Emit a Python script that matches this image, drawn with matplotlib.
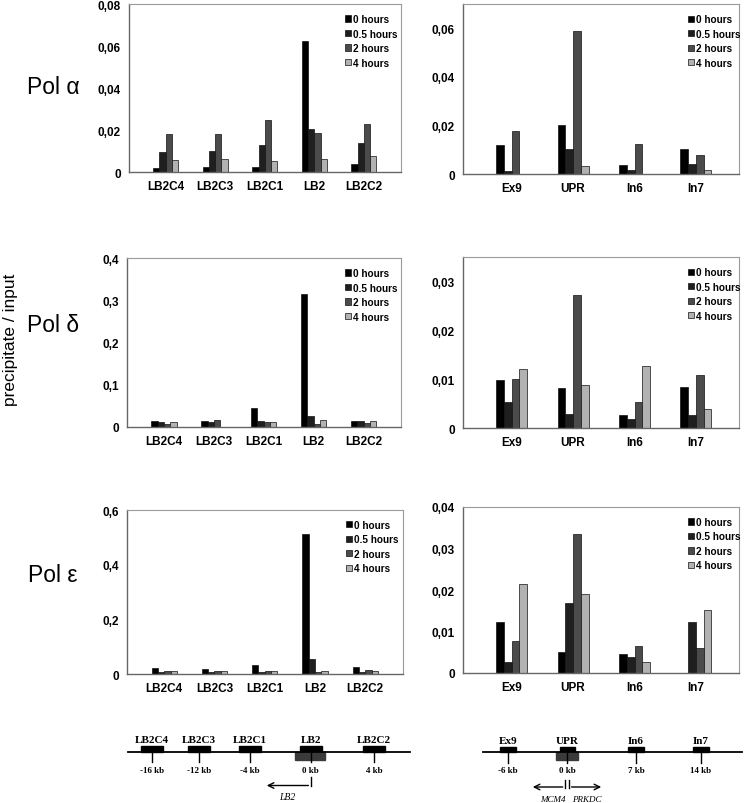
import numpy as np
import matplotlib.pyplot as plt
from matplotlib.ticker import MultipleLocator, FuncFormatter

plt.rcParams['font.family'] = ['Liberation Sans', 'DejaVu Sans']

hours = ['0 hours', '0.5 hours', '2 hours', '4 hours']
colors = ['#000000', '#1f1f1f', '#4b4b4b', '#b2b2b2']

lb2_sites = ['LB2C4', 'LB2C3', 'LB2C1', 'LB2', 'LB2C2']
mcm4_sites = ['Ex9', 'UPR', 'In6', 'In7']

# rows = time points (0, 0.5, 2, 4 hours), columns = sites
pol_a_lb2 = [[0.0017, 0.0025, 0.0022, 0.0624, 0.0037],
             [0.0094, 0.0100, 0.0129, 0.0203, 0.0137],
             [0.0179, 0.0183, 0.0246, 0.0184, 0.0229],
             [0.0057, 0.0060, 0.0051, 0.0060, 0.0075]]
pol_a_mcm4 = [[0.0121, 0.0201, 0.0037, 0.0105],
              [0.0014, 0.0101, 0.0015, 0.0043],
              [0.0178, 0.0590, 0.0124, 0.0080],
              [0.0, 0.0032, 0.0, 0.0015]]

pol_d_lb2 = [[0.0142, 0.0150, 0.0449, 0.315, 0.0134],
             [0.0110, 0.0110, 0.0134, 0.025, 0.0134],
             [0.0070, 0.0165, 0.0110, 0.008, 0.0102],
             [0.0118, 0.0, 0.0126, 0.0173, 0.0142]]
pol_d_mcm4 = [[0.0098, 0.0081, 0.0027, 0.0084],
              [0.0053, 0.0029, 0.0018, 0.0026],
              [0.0100, 0.0273, 0.0054, 0.0109],
              [0.0121, 0.0087, 0.0127, 0.0039]]

pol_e_lb2 = [[0.022, 0.0195, 0.034, 0.511, 0.024],
             [0.006, 0.006, 0.006, 0.055, 0.006],
             [0.011, 0.011, 0.0098, 0.0085, 0.0134],
             [0.0098, 0.011, 0.0098, 0.0098, 0.0098]]
pol_e_mcm4 = [[0.0124, 0.0050, 0.0045, 0.0],
              [0.0026, 0.0168, 0.0038, 0.0122],
              [0.0078, 0.0334, 0.0065, 0.0060],
              [0.0215, 0.0190, 0.0026, 0.0152]]

# gene maps
lb2_map_labels = ['-16 kb', '-12 kb', '-4 kb', '0 kb', '4 kb']
mcm4_map_labels = ['-6 kb', '0 kb', '7 kb', '14 kb']

W, H = 745, 804
fig = plt.figure(figsize=(W / 100, H / 100), dpi=100)


def px_axes(x0, y0, x1, y1):
    return fig.add_axes([x0 / W, 1 - y1 / H, (x1 - x0) / W, (y1 - y0) / H])


def fmt(v, pos):
    v = round(v, 4)
    if v == 0:
        return '0'
    return ('%g' % v).replace('.', ',')


def bar_panel(ax, sites, values, ymax, step, xlim, legend_xy):
    x = np.arange(len(sites))
    w = 0.126
    for i, (name, vals) in enumerate(zip(hours, values)):
        ax.bar(x + (i - 1.5) * w, vals, w, color=colors[i], edgecolor='#111111',
               linewidth=0.5, label=name)
    ax.set_xlim(*xlim)
    ax.set_ylim(0, ymax)
    ax.yaxis.set_major_locator(MultipleLocator(step))
    ax.yaxis.set_major_formatter(FuncFormatter(fmt))
    ax.set_xticks(x)
    ax.set_xticklabels(sites, fontweight='bold', fontsize=8.5)
    for t in ax.get_yticklabels():
        t.set_fontweight('bold')
    ax.tick_params(axis='both', length=0, labelsize=8.5, pad=6)
    for s in ['left', 'bottom']:
        ax.spines[s].set_color('#666666')
        ax.spines[s].set_linewidth(1.0)
    for s in ['top', 'right']:
        ax.spines[s].set_color('#9a9a9a')
        ax.spines[s].set_linewidth(0.8)
    leg = ax.legend(loc='upper left', bbox_to_anchor=legend_xy, frameon=False,
                    handlelength=0.6, handleheight=0.6,
                    handletextpad=0.2, labelspacing=0.45, borderpad=0,
                    borderaxespad=0, prop={'weight': 'bold', 'size': 7.2})
    return leg


left_xlim = (-0.74, 4.75)
right_xlim = (-0.79, 3.70)

ax1 = px_axes(129, 5, 401, 173)
bar_panel(ax1, lb2_sites, pol_a_lb2, 0.08, 0.02, left_xlim, (0.795, 0.94))
ax2 = px_axes(463, 5, 739, 175)
bar_panel(ax2, mcm4_sites, pol_a_mcm4, 0.07, 0.02, right_xlim, (0.815, 0.94))

ax3 = px_axes(127, 259, 401, 428)
bar_panel(ax3, lb2_sites, pol_d_lb2, 0.4, 0.1, left_xlim, (0.795, 0.94))
ax4 = px_axes(463, 258, 739, 429)
bar_panel(ax4, mcm4_sites, pol_d_mcm4, 0.035, 0.01, right_xlim, (0.815, 0.94))

ax5 = px_axes(127, 511, 403, 675)
bar_panel(ax5, lb2_sites, pol_e_lb2, 0.6, 0.2, left_xlim, (0.795, 0.94))
ax6 = px_axes(463, 508, 739, 674)
bar_panel(ax6, mcm4_sites, pol_e_mcm4, 0.04, 0.01, right_xlim, (0.815, 0.94))

# overlay in pixel coordinates for row labels and gene maps
ov = fig.add_axes([0, 0, 1, 1], zorder=-1)
ov.set_xlim(0, W)
ov.set_ylim(H, 0)
ov.axis('off')

ov.text(53, 88, 'Pol \u03b1', fontsize=16.5, ha='center', va='center')
ov.text(53, 326, 'Pol \u03b4', fontsize=16.5, ha='center', va='center')
ov.text(53, 576, 'Pol \u03b5', fontsize=16.5, ha='center', va='center')
ov.text(11, 340, 'precipitate / input', fontsize=12.5, rotation=90,
        ha='center', va='center')

serif = ['Liberation Serif', 'DejaVu Serif']

# LB2 locus
line_y = 752.7
ov.plot([128, 410], [line_y, line_y], color='black', lw=1.3)
lb2_x = [151.7, 199, 250.3, 310.7, 374.3]
for xc, name, lab in zip(lb2_x, lb2_sites, lb2_map_labels):
    ov.add_patch(plt.Rectangle((xc - 11, line_y - 5.5), 22, 5.5, color='black'))
    ov.plot([xc, xc], [line_y, 763], color='black', lw=1)
    ov.text(xc, 741, name, family=serif, fontweight='bold', fontsize=8,
            ha='center', va='center')
    ov.text(xc, 771, lab, family=serif, fontweight='bold', fontsize=6.5,
            ha='center', va='center')
ov.add_patch(plt.Rectangle((295, line_y), 30.3, 8, color='#3a3a3a'))
ov.plot([310.7, 310.7], [778, 786.5], color='black', lw=1)
ov.annotate('', xy=(264, 786.5), xytext=(311.2, 786.5),
            arrowprops=dict(arrowstyle='->', lw=1, color='black'))
ov.text(287, 798, 'LB2', family=serif, fontstyle='italic', fontsize=7,
        ha='center', va='center')

# MCM4 / PRKDC locus
ov.plot([483, 742], [line_y, line_y], color='black', lw=1.3)
mcm4_x = [508, 567.3, 636, 701]
for xc, name, lab in zip(mcm4_x, mcm4_sites, mcm4_map_labels):
    ov.add_patch(plt.Rectangle((xc - 7.7, line_y - 4.5), 15.4, 4.5, color='black'))
    ov.plot([xc, xc], [line_y, 764], color='black', lw=1)
    ov.text(xc, 741.5, name, family=serif, fontweight='bold', fontsize=8,
            ha='center', va='center')
    ov.text(xc, 771, lab, family=serif, fontweight='bold', fontsize=6.5,
            ha='center', va='center')
ov.add_patch(plt.Rectangle((556, line_y), 22.3, 8, color='#3a3a3a'))
ov.plot([565, 565], [781, 788.5], color='black', lw=1)
ov.plot([569.3, 569.3], [781, 788.5], color='black', lw=1)
ov.annotate('', xy=(530, 788), xytext=(565.5, 788),
            arrowprops=dict(arrowstyle='->', lw=1, color='black'))
ov.annotate('', xy=(604, 788), xytext=(568.8, 788),
            arrowprops=dict(arrowstyle='->', lw=1, color='black'))
ov.text(553, 800, 'MCM4', family=serif, fontstyle='italic', fontsize=6.5,
        ha='center', va='center')
ov.text(587, 800, 'PRKDC', family=serif, fontstyle='italic', fontsize=6.5,
        ha='center', va='center')

plt.savefig('out.png', dpi=100)
